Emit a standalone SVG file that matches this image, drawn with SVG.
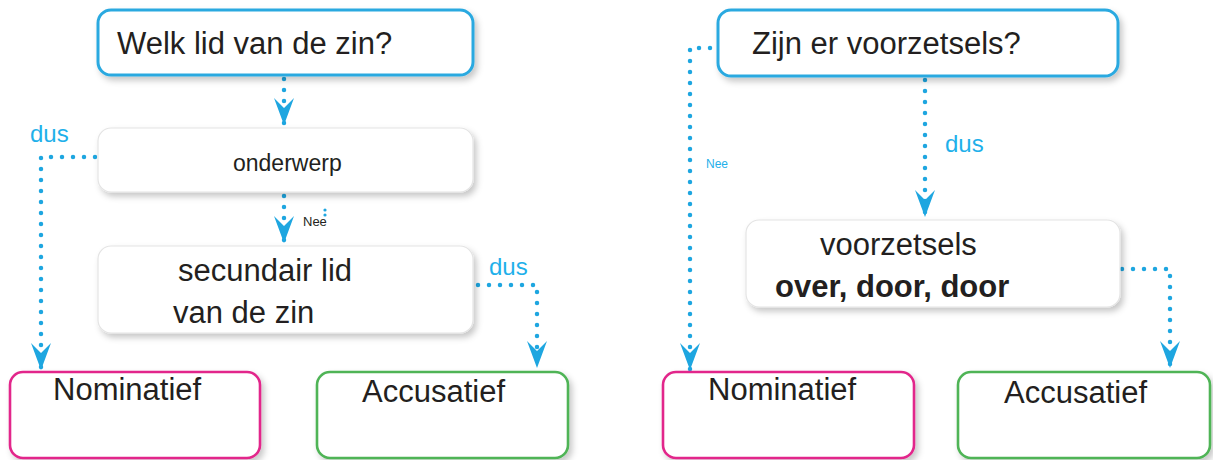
<svg xmlns="http://www.w3.org/2000/svg" width="1213" height="460" viewBox="0 0 1213 460">
<style>
  .txt{font-family:"Liberation Sans",Arial,Helvetica,sans-serif;fill:#231f20}
  .big{font-size:31px}
  .bold{font-weight:bold}
  .blue{fill:#1fb0ea;font-family:"Liberation Sans",Arial,sans-serif}
  .q{fill:#ffffff;stroke:#2aa9e0;stroke-width:3}
  .w{fill:#ffffff;stroke:#e4e4e4;stroke-width:1.2}
  .nom{fill:#ffffff;stroke:#e2288b;stroke-width:2.6}
  .acc{fill:#ffffff;stroke:#4fb456;stroke-width:2.6}
  .dot{fill:none;stroke:#1ea6e0;stroke-width:4.5;stroke-linecap:round;stroke-dasharray:0 11}
</style>
<defs>
  <filter id="sh" x="-10%" y="-20%" width="125%" height="150%">
    <feDropShadow dx="3" dy="4" stdDeviation="3" flood-color="#000" flood-opacity="0.22"/>
  </filter>
  <marker id="ah" viewBox="0 0 27 20" refX="27" refY="10" markerWidth="27" markerHeight="20" markerUnits="userSpaceOnUse" orient="auto">
    <path d="M27,10 L0,0 L10,10 L0,20 Z" fill="#1ea6e0"/>
  </marker>
</defs>
<rect width="1213" height="460" fill="#ffffff"/>

<g id="connectors">
  <path class="dot" d="M284,79 L284,125" marker-end="url(#ah)"/>
  <path class="dot" d="M95,157 L41,157 L41,370" marker-end="url(#ah)"/>
  <path class="dot" d="M284,196 L284,243" marker-end="url(#ah)"/>
  <path class="dot" d="M478,285 L537,285 L537,368" marker-end="url(#ah)"/>
  <path class="dot" d="M710,48 L690,48 L690,370" marker-end="url(#ah)"/>
  <path class="dot" d="M925,80 L925,217" marker-end="url(#ah)"/>
  <path class="dot" d="M1122,269 L1170,269 L1170,368" marker-end="url(#ah)"/>
  <circle cx="325" cy="210" r="1.6" fill="#1ea6e0"/>
  <circle cx="325" cy="215" r="1.6" fill="#1ea6e0"/>
  <text class="blue" x="30" y="142" font-size="24">dus</text>
  <text class="txt" x="303" y="226" font-size="13" fill="#1a2b3c">Nee</text>
  <text class="blue" x="489" y="275" font-size="24">dus</text>
  <text class="blue" x="706" y="168" font-size="12">Nee</text>
  <text class="blue" x="945" y="152" font-size="24">dus</text>
</g>

<g id="welk">
  <rect class="q" x="98" y="10" width="375" height="65" rx="13" filter="url(#sh)"/>
  <text class="txt big" x="117" y="54">Welk lid van de zin?</text>
</g>
<g id="onderwerp">
  <rect class="w" x="98" y="128" width="375" height="64" rx="13" filter="url(#sh)"/>
  <text class="txt" x="233" y="171" font-size="23">onderwerp</text>
</g>
<g id="secundair">
  <rect class="w" x="98" y="246" width="375" height="87" rx="13" filter="url(#sh)"/>
  <text class="txt big" x="178" y="281">secundair lid</text>
  <text class="txt big" x="173" y="323">van de zin</text>
</g>
<g id="nominatief-links">
  <rect class="nom" x="10" y="372" width="250" height="86" rx="13" filter="url(#sh)"/>
  <text class="txt big" x="53" y="400">Nominatief</text>
</g>
<g id="accusatief-links">
  <rect class="acc" x="317" y="372" width="251" height="86" rx="13" filter="url(#sh)"/>
  <text class="txt big" x="362" y="402">Accusatief</text>
</g>

<g id="zijn">
  <rect class="q" x="718" y="10" width="400" height="66" rx="13" filter="url(#sh)"/>
  <text class="txt big" x="752" y="54">Zijn er voorzetsels?</text>
</g>
<g id="voorzetsels">
  <rect class="w" x="746" y="220" width="374" height="87" rx="13" filter="url(#sh)"/>
  <text class="txt big" x="820" y="255">voorzetsels</text>
  <text class="txt big bold" x="775" y="297">over, door, door</text>
</g>
<g id="nominatief-rechts">
  <rect class="nom" x="663" y="372" width="251" height="86" rx="13" filter="url(#sh)"/>
  <text class="txt big" x="708" y="400">Nominatief</text>
</g>
<g id="accusatief-rechts">
  <rect class="acc" x="958" y="372" width="252" height="86" rx="13" filter="url(#sh)"/>
  <text class="txt big" x="1004" y="403">Accusatief</text>
</g>
</svg>
